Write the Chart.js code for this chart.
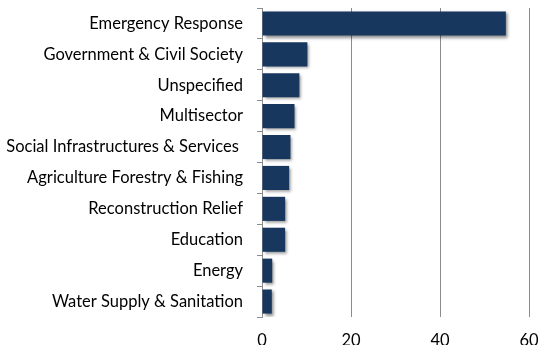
<!DOCTYPE html>
<html>
<head>
<meta charset="utf-8">
<script src="https://cdn.jsdelivr.net/npm/chart.js@4/dist/chart.umd.min.js"></script>
<style>
  html, body { margin: 0; padding: 0; background: #fff; overflow: hidden; }
  #wrap { width: 538px; height: 345px; overflow: hidden; }
</style>
</head>
<body>
<div id="wrap"><canvas id="myChart" width="538" height="362"></canvas></div>
<script>
const sectors = [
   'Emergency Response',
   'Government & Civil Society',
   'Unspecified',
   'Multisector',
   'Social Infrastructures & Services ',
   'Agriculture Forestry & Fishing',
   'Reconstruction Relief',
   'Education',
   'Energy',
   'Water Supply & Sanitation'
];
const shares = [54.8, 10.2, 8.4, 7.3, 6.4, 6.1, 5.2, 5.2, 2.3, 2.2];
const xTicks = [0, 20, 40, 60];

// ombre portée sous les barres
const barShadow = {
   id: 'barShadow',
   beforeDatasetsDraw(chart) {
      const ctx = chart.ctx;
      ctx.save();
      ctx.shadowColor = 'rgba(0,0,0,0.45)';
      ctx.shadowBlur = 3;
      ctx.shadowOffsetX = 2;
      ctx.shadowOffsetY = 2;
   },
   afterDatasetsDraw(chart) {
      chart.ctx.restore();
   }
};

const ctx = document.getElementById('myChart').getContext('2d');
new Chart(ctx, {
   type: 'bar',
   data: {
      labels: sectors,
      datasets: [{
         data: shares,
         backgroundColor: '#17375E',
         borderWidth: 0,
         barPercentage: 0.78,
         categoryPercentage: 1
      }]
   },
   plugins: [barShadow],
   options: {
      indexAxis: 'y',
      responsive: false,
      devicePixelRatio: 1,
      animation: false,
      layout: { padding: { top: 8, right: 9, left: 0, bottom: 0 } },
      plugins: { legend: { display: false }, tooltip: { enabled: false } },
      scales: {
         x: {
            min: 0,
            max: 60,
            afterBuildTicks: scale => { scale.ticks = xTicks.map(v => ({ value: v })); },
            afterFit: scale => {
               scale.height = 362 - 317;
               scale.paddingLeft = 0;
               scale.paddingRight = 0;
            },
            grid: { color: '#8c8c8c', lineWidth: 1, drawTicks: false },
            border: { display: false },
            ticks: {
               padding: 14,
               color: '#000',
               font: { family: 'Lato', size: 16.5 }
            }
         },
         y: {
            afterFit: scale => {
               scale.width = 262;
               scale.paddingTop = 0;
               scale.paddingBottom = 0;
            },
            grid: {
               offset: true,
               drawOnChartArea: false,
               drawTicks: true,
               tickLength: 5,
               color: '#8c8c8c'
            },
            border: { display: true, color: '#8c8c8c' },
            ticks: {
               padding: 14,
               color: '#000',
               font: { family: 'Lato', size: 16.5 }
            }
         }
      }
   }
});
</script>
</body>
</html>
